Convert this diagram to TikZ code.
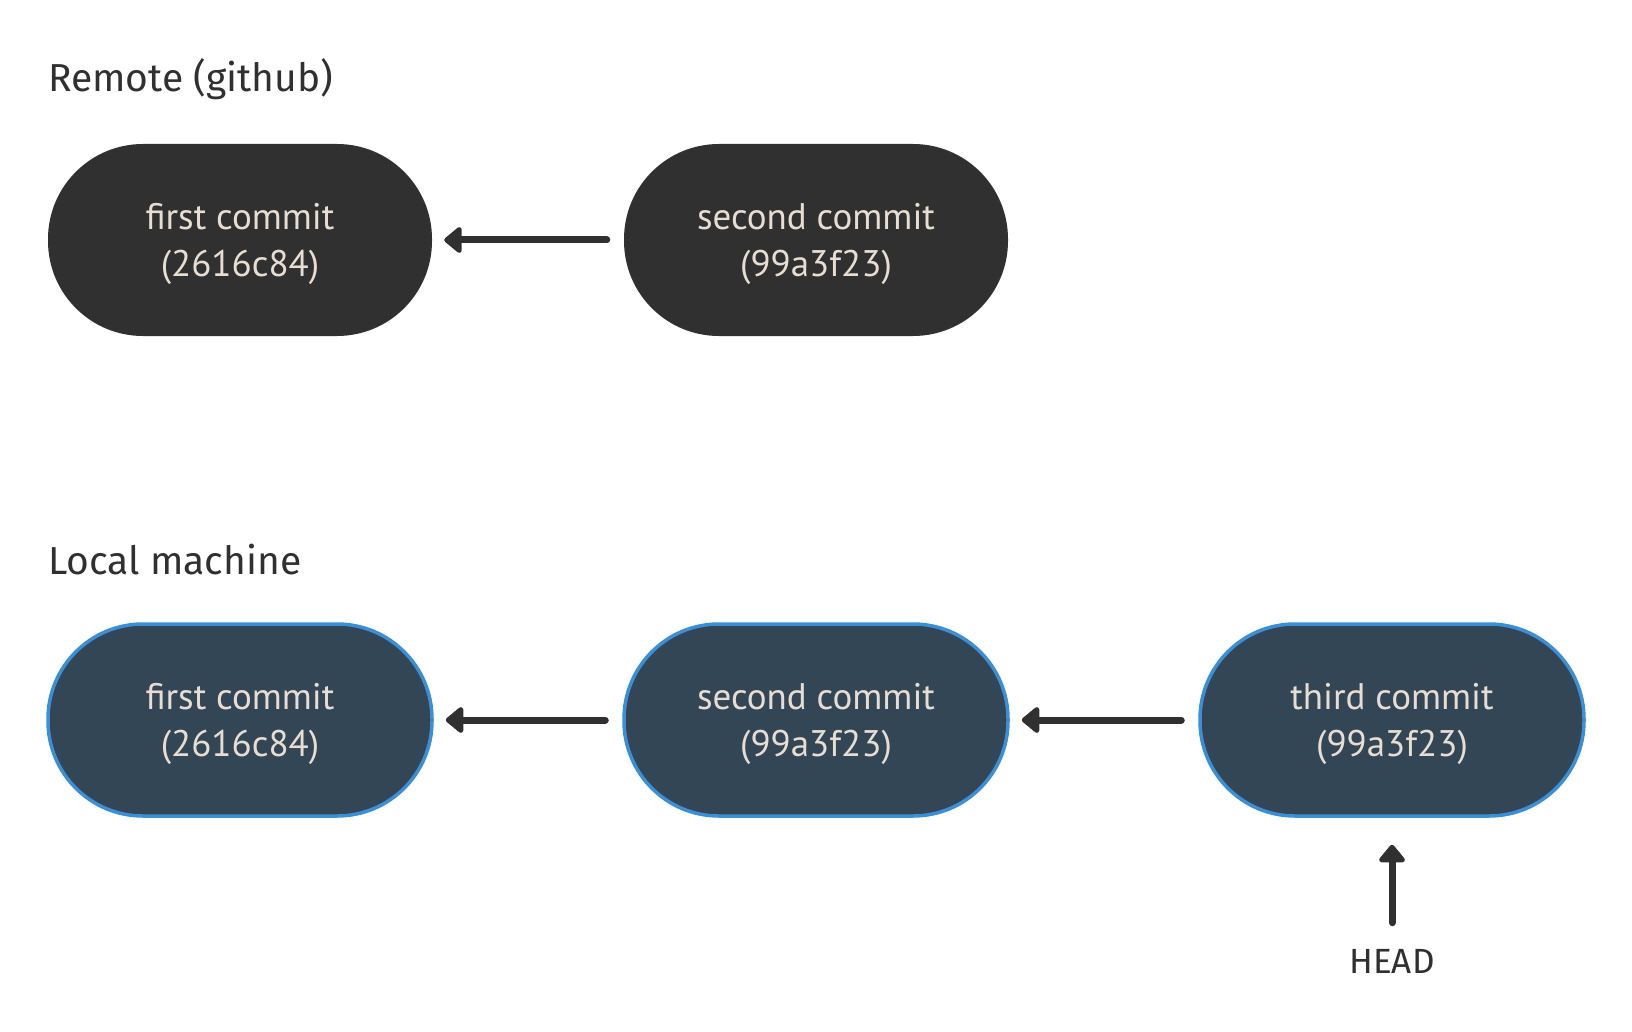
\documentclass[tikz,border=0pt]{standalone}
\usepackage{fontspec}
\setmainfont{PT Sans}
\newfontfamily\medfont{Fira Sans}
\usetikzlibrary{arrows.meta}
\definecolor{remotefill}{HTML}{303030}
\definecolor{localfill}{HTML}{334655}
\definecolor{localedge}{HTML}{3A8FD6}
\definecolor{txtbeige}{HTML}{E8DDD2}
\definecolor{ink}{HTML}{303030}
\newcommand\lowr[1]{\raisebox{-4pt}[\height][\depth]{#1}}
\tikzset{
  commit/.style={rectangle, rounded corners=95pt, minimum width=384pt, minimum height=192pt,
    align=center, text=txtbeige, font=\fontsize{37}{47}\selectfont, inner sep=0pt},
  remote/.style={commit, fill=remotefill},
  localc/.style={commit, fill=localfill, draw=localedge, line width=3.5pt},
  title/.style={anchor=west, text=ink, font=\medfont\fontsize{39}{46}\selectfont, inner sep=0pt},
  arr/.style={draw=ink, line width=7pt, line cap=round,
    -{Triangle[width=30pt, length=19pt, round]}}
}
\begin{document}
\begin{tikzpicture}[x=1pt, y=-1pt]
\useasboundingbox (0,0) rectangle (1632,1032);
\node[title] (t1) at (48,79) {Remote (github)};
\node[title] (t2) at (48,560) {Local machine};
\node[remote] (r1) at (240,240) {\lowr{first commit}\\\lowr{(2616c84)}};
\node[remote] (r2) at (816,240) {\lowr{second commit}\\\lowr{(99a3f23)}};
\node[localc] (l1) at (240,720) {\lowr{first commit}\\\lowr{(2616c84)}};
\node[localc] (l2) at (816,720) {\lowr{second commit}\\\lowr{(99a3f23)}};
\node[localc] (l3) at (1392,720) {\lowr{third commit}\\\lowr{(99a3f23)}};
\node[text=ink, font=\medfont\fontsize{35}{42}\selectfont, inner sep=0pt] (head) at (1392,961) {HEAD};
\draw[arr, shorten <=17pt, shorten >=12pt] (r2) -- (r1);
\draw[arr, shorten <=17pt, shorten >=12pt] (l2) -- (l1);
\draw[arr, shorten <=17pt, shorten >=12pt] (l3) -- (l2);
\draw[arr, shorten <=26pt, shorten >=27pt] (head) -- (l3);
\end{tikzpicture}
\end{document}
